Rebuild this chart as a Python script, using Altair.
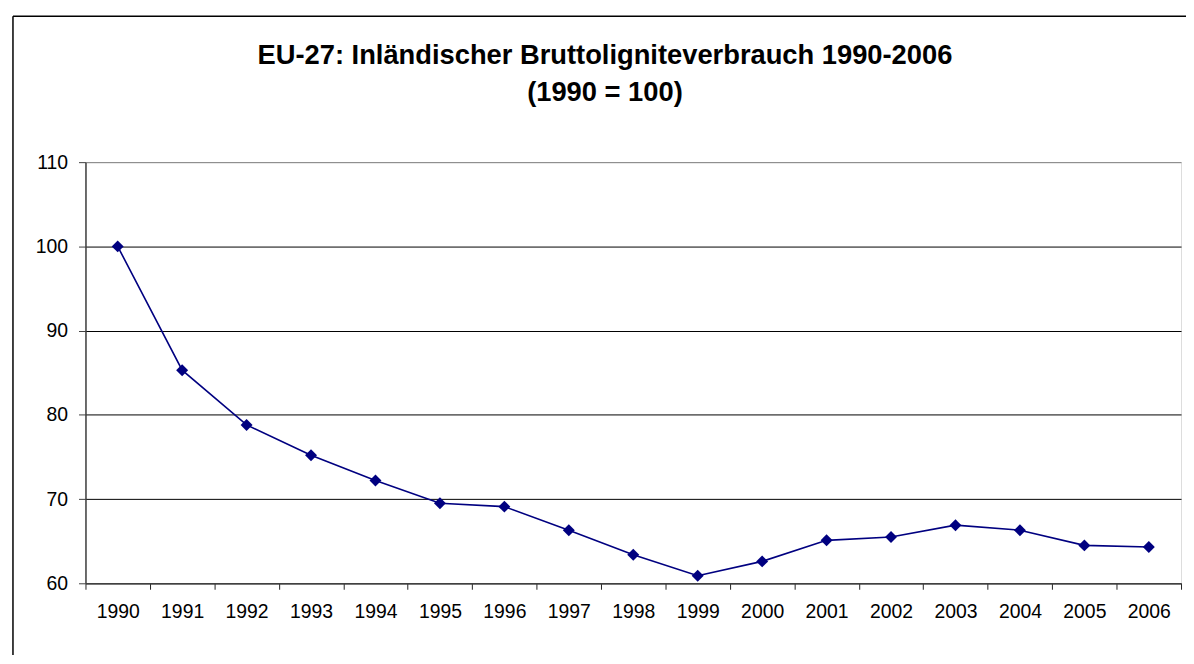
import altair as alt
import pandas as pd

years = ["1990", "1991", "1992", "1993", "1994", "1995", "1996", "1997", "1998",
         "1999", "2000", "2001", "2002", "2003", "2004", "2005", "2006"]
values = [100.0, 85.3, 78.8, 75.2, 72.2, 69.5, 69.1, 66.3, 63.4,
          60.9, 62.6, 65.1, 65.5, 66.9, 66.3, 64.5, 64.3]
y_ticks = [60, 70, 80, 90, 100, 110]
title_lines = ["EU-27: Inländischer Bruttoligniteverbrauch 1990-2006", "(1990 = 100)"]

df = pd.DataFrame({"year": years, "value": values})

FONT = "Liberation Sans"
W, H = 1103, 424
NAVY = "#000080"

x = alt.X("year:O", title=None,
          scale=alt.Scale(type="band", paddingInner=0, paddingOuter=0),
          axis=alt.Axis(labelAngle=0, tickBand="extent", tickSize=6, tickColor="#222222",
                        domainColor="#404040", domainWidth=1.5, labelPadding=13,
                        labelFontSize=19.5, labelFont=FONT, labelColor="black", grid=False))
y = alt.Y("value:Q", title=None,
          scale=alt.Scale(domain=[60, 110], nice=False, zero=False),
          axis=alt.Axis(values=y_ticks, tickSize=7, tickColor="#404040",
                        domainColor="#404040", domainWidth=1.5, labelPadding=11,
                        labelFontSize=19.5, labelFont=FONT, labelColor="black",
                        grid=True,
                        gridColor=alt.condition("datum.value == 110", alt.value("#808080"), alt.value("black")),
                        gridWidth=1))

base = alt.Chart(df)
line = base.mark_line(color=NAVY, strokeWidth=1.6).encode(x=x, y=y)
pts = base.mark_point(shape="diamond", filled=True, color=NAVY, size=145, opacity=1).encode(x=x, y=y)

one = pd.DataFrame({"a": [0]})
frame_top = alt.Chart(one).mark_rule(color="black", strokeWidth=1.5).encode(
    x=alt.value(-73), x2=alt.value(1120), y=alt.value(-147))
frame_left = alt.Chart(one).mark_rule(color="black", strokeWidth=1.5).encode(
    x=alt.value(-73), y=alt.value(-147), y2=alt.value(520))

t1 = alt.Chart(pd.DataFrame({"t": [title_lines[0]]})).mark_text(
    font=FONT, fontSize=27.5, fontWeight="bold", color="black", align="center", baseline="alphabetic"
).encode(text="t:N", x=alt.value(523), y=alt.value(-98.5))
t2 = alt.Chart(pd.DataFrame({"t": [title_lines[1]]})).mark_text(
    font=FONT, fontSize=27.5, fontWeight="bold", color="black", align="center", baseline="alphabetic"
).encode(text="t:N", x=alt.value(523), y=alt.value(-62))

chart = alt.layer(frame_top, frame_left, t1, t2, line, pts).properties(
    width=W, height=H,
    autosize=alt.AutoSizeParams(type="none"),
    padding={"left": 78, "top": 153, "right": 5, "bottom": 70},
).configure_view(stroke="#808080", strokeWidth=1.5).configure(background="white")

chart.save("out.html", embed_options={"renderer": "svg", "actions": False})
